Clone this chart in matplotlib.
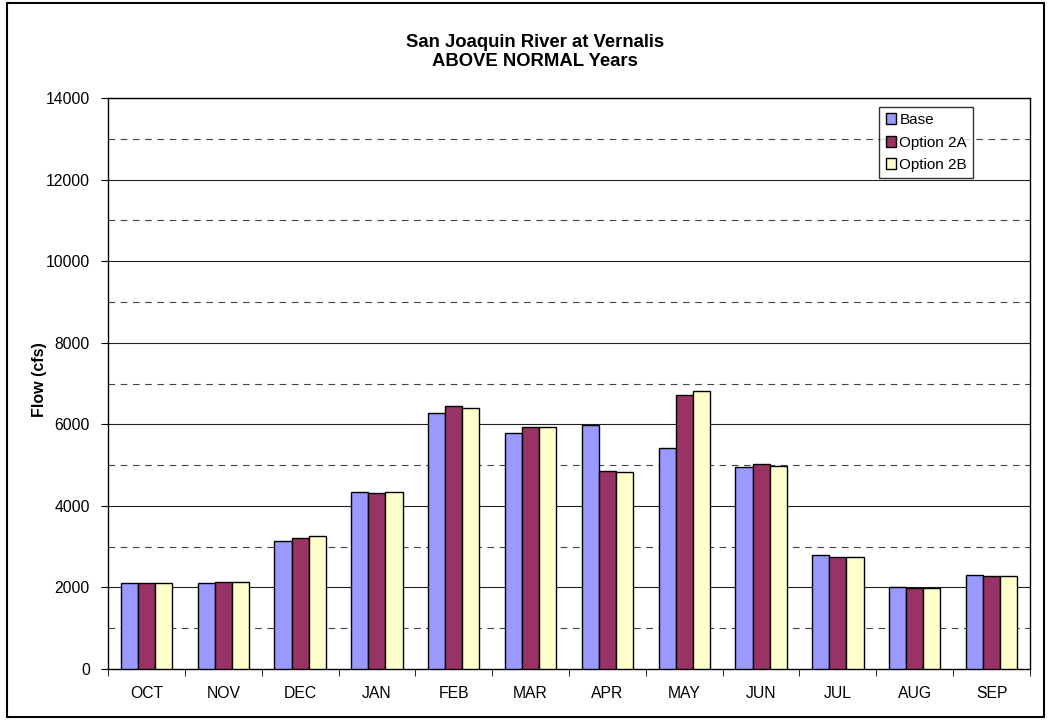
import numpy as np
import matplotlib
matplotlib.use("Agg")
import matplotlib.pyplot as plt
from matplotlib.patches import Rectangle

plt.rcParams['font.family'] = ['Liberation Sans', 'DejaVu Sans']

months = ["OCT", "NOV", "DEC", "JAN", "FEB", "MAR", "APR", "MAY", "JUN", "JUL", "AUG", "SEP"]
base = [2100, 2108, 3138, 4339, 6276, 5793, 5974, 5425, 4952, 2787, 2010, 2297]
opt_2a = [2105, 2130, 3204, 4322, 6440, 5940, 4854, 6717, 5018, 2746, 1993, 2289]
opt_2b = [2115, 2135, 3260, 4330, 6391, 5940, 4837, 6815, 4977, 2746, 1993, 2281]

series = [("Base", base, "#9999FF"),
          ("Option 2A", opt_2a, "#993366"),
          ("Option 2B", opt_2b, "#FFFFCC")]

fig = plt.figure(figsize=(10.51, 7.23), dpi=100)
ax = fig.add_axes([108 / 1051, 1 - 669 / 723, (1030 - 108) / 1051, (669 - 98) / 723])

# frame around the whole chart
fig.patches.append(Rectangle((7 / 1051, 1 - 717 / 723), (1044 - 7) / 1051, (717 - 3) / 723,
                             transform=fig.transFigure, fill=False, edgecolor="black", lw=1.5))

x = np.arange(len(months))
w = 0.222
for i, (name, vals, col) in enumerate(series):
    ax.bar(x + (i - 1) * w, vals, w, color=col, edgecolor="black", linewidth=1.0,
           label=name, zorder=3)

ax.set_xlim(-0.5, len(months) - 0.5)
ax.set_ylim(0, 14000)

# solid major grid, dashed minor grid
for v in range(2000, 14001, 2000):
    ax.axhline(v, color="#222222", lw=0.8, zorder=1)
for v in range(1000, 14000, 2000):
    ax.axhline(v, color="#444444", lw=0.8, ls=(0, (6, 5)), zorder=1)

ax.set_yticks(range(0, 14001, 2000))
ax.set_xticks(x)
ax.set_xticklabels(months)
ax.set_xticks(np.arange(-0.5, len(months)), minor=True)
ax.tick_params(axis="x", which="major", length=0, pad=12, labelsize=11.3)
ax.tick_params(axis="x", which="minor", length=5, direction="out")
ax.tick_params(axis="y", length=5, direction="out", labelsize=11.3, pad=8)

for s in ax.spines.values():
    s.set_color("black")
    s.set_linewidth(1.0)

ax.set_ylabel("Flow (cfs)", fontsize=11.5, fontweight="bold")
ax.yaxis.set_label_coords(47 / 1051, 1 - 380 / 723, transform=fig.transFigure)

fig.text(535 / 1051, 1 - 52 / 723, "San Joaquin River at Vernalis\nABOVE NORMAL Years",
         ha="center", va="center", fontsize=13.3, fontweight="bold", linespacing=1.1)

leg = ax.legend(loc="upper right", bbox_to_anchor=(973 / 1051, 1 - 107 / 723),
                bbox_transform=fig.transFigure, fontsize=11, frameon=True, fancybox=False,
                handlelength=0.7, handleheight=0.7, handletextpad=0.2, borderpad=0.4,
                labelspacing=0.55, borderaxespad=0)
leg.get_frame().set_edgecolor("black")
leg.get_frame().set_linewidth(1.0)

fig.savefig("out.png", dpi=100)
